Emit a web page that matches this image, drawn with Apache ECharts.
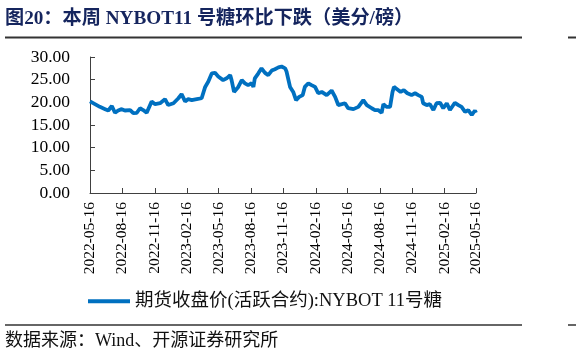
<!DOCTYPE html>
<html>
<head>
<meta charset="utf-8">
<script src="https://cdn.jsdelivr.net/npm/echarts@6/dist/echarts.min.js"></script>
<style>
html,body{margin:0;padding:0;background:#fff;}
#chart{width:576px;height:353px;}
</style>
</head>
<body>
<div id="chart"></div>
<script>
const dates = [
'2022-05-16','2022-05-30','2022-06-13','2022-06-28','2022-07-07','2022-07-17','2022-07-26','2022-08-04','2022-08-14','2022-08-23',
'2022-09-07','2022-09-16','2022-09-26','2022-10-05','2022-10-14','2022-10-24','2022-11-07','2022-11-17','2022-12-01','2022-12-15',
'2022-12-24','2023-01-08','2023-01-22','2023-01-31','2023-02-10','2023-02-19','2023-03-01','2023-03-15','2023-03-29','2023-04-08',
'2023-04-17','2023-04-27','2023-05-06','2023-05-15','2023-05-29','2023-06-08','2023-06-18','2023-06-22','2023-06-29','2023-07-11',
'2023-07-21','2023-07-30','2023-08-08','2023-08-18','2023-08-23','2023-08-27','2023-09-06','2023-09-15','2023-09-25','2023-10-04',
'2023-10-14','2023-10-23','2023-11-02','2023-11-11','2023-11-21','2023-11-25','2023-12-05','2023-12-14','2023-12-22','2023-12-31',
'2024-01-10','2024-01-16','2024-01-26','2024-02-04','2024-02-14','2024-02-23','2024-03-04','2024-03-18','2024-04-01','2024-04-11',
'2024-04-20','2024-04-30','2024-05-09','2024-05-18','2024-06-02','2024-06-16','2024-06-30','2024-07-10','2024-07-24','2024-08-02',
'2024-08-11','2024-08-21','2024-08-26','2024-09-04','2024-09-14','2024-09-21','2024-09-25','2024-10-04','2024-10-14','2024-10-23',
'2024-11-02','2024-11-14','2024-11-24','2024-12-03','2024-12-13','2024-12-17','2024-12-27','2025-01-05','2025-01-15','2025-01-24',
'2025-02-03','2025-02-12','2025-02-22','2025-03-03','2025-03-17','2025-03-27','2025-04-05','2025-04-15','2025-04-24','2025-05-04',
'2025-05-13','2025-05-16'
];
const prices = [
20.2,19.6,19.0,18.5,18.2,19.2,17.7,18.2,18.5,18.2,
18.3,17.6,17.7,18.7,18.3,17.7,20.2,19.6,19.8,20.7,
19.4,19.8,20.9,21.8,20.2,20.7,20.5,20.7,20.9,23.4,
24.6,26.4,26.5,25.7,24.9,25.3,26.0,24.9,22.3,23.4,
24.9,24.2,23.8,24.2,23.4,25.3,26.4,27.5,26.5,26.0,
27.0,27.3,27.7,27.9,27.5,26.8,23.4,22.3,20.5,21.2,
21.6,23.4,24.2,23.8,23.4,22.0,22.3,21.6,22.6,21.2,
19.4,19.6,19.8,18.7,18.5,19.0,20.5,19.4,18.7,18.3,
18.3,17.7,19.6,19.0,19.0,22.3,23.4,22.9,22.3,22.7,
22.0,21.6,22.0,21.6,21.2,19.8,19.4,19.6,18.3,19.8,
19.9,18.7,19.8,18.3,19.9,19.4,19.0,17.9,18.3,17.2,
18.2,17.7
];
const tickDates = ['2022-05-16','2022-08-16','2022-11-16','2023-02-16','2023-05-16','2023-08-16','2023-11-16',
'2024-02-16','2024-05-16','2024-08-16','2024-11-16','2025-02-16','2025-05-16'];
const seriesName = '期货收盘价(活跃合约):NYBOT 11号糖';
const titleText = '图20：本周 NYBOT11 号糖环比下跌（美分/磅）';
const sourceText = '数据来源：Wind、开源证券研究所';

function ts(s){const p=s.split('-').map(Number);return Date.UTC(p[0],p[1]-1,p[2]);}
function fmt(v){const d=new Date(v);const m=d.getUTCMonth()+1, day=d.getUTCDate();
  return d.getUTCFullYear()+'-'+(m<10?'0':'')+m+'-'+(day<10?'0':'')+day;}
const tickTs = tickDates.map(ts);
const seriesData = dates.map((d,i)=>[ts(d), prices[i]]);

const serif = '"Liberation Serif","Times New Roman","Noto Sans CJK SC",serif';
const chart = echarts.init(document.getElementById('chart'), null, {renderer:'canvas'});
chart.setOption({
  animation:false,
  backgroundColor:'#fff',
  title:{text:titleText,left:5,top:9,padding:0,textStyle:{fontFamily:serif,fontWeight:'bold',fontSize:19.2,color:'#15255E'}},
  grid:{left:90,right:100,top:57,bottom:160,containLabel:false},
  legend:{left:88,top:292,padding:0,icon:'rect',itemWidth:42,itemHeight:4,itemGap:3,
    textStyle:{fontFamily:serif,fontSize:18.5,color:'#111'},data:[seriesName]},
  xAxis:{type:'value',min:tickTs[0],max:tickTs[tickTs.length-1],scale:true,
    axisLine:{lineStyle:{color:'#404040',width:1}},
    axisTick:{show:true,inside:true,length:5,lineStyle:{color:'#404040'},customValues:tickTs},
    axisLabel:{rotate:90,margin:9,fontFamily:serif,fontSize:15.5,color:'#000',customValues:tickTs,formatter:fmt},
    splitLine:{show:false}},
  yAxis:{type:'value',min:0,max:30,interval:5,
    axisLine:{show:true,lineStyle:{color:'#404040',width:1}},
    axisTick:{show:true,inside:true,length:5,lineStyle:{color:'#404040'}},
    axisLabel:{margin:20,fontFamily:serif,fontSize:17.5,color:'#000',formatter:v=>v.toFixed(2)},
    splitLine:{show:false}},
  series:[{name:seriesName,type:'line',data:seriesData,showSymbol:false,symbol:'none',
    lineStyle:{color:'#0070C0',width:3.8},itemStyle:{color:'#0070C0'}}],
  graphic:[
    {type:'line',shape:{x1:5,y1:37.5,x2:522,y2:37.5},style:{stroke:'#333',lineWidth:2}},
    {type:'line',shape:{x1:568,y1:37.5,x2:576,y2:37.5},style:{stroke:'#333',lineWidth:2}},
    {type:'line',shape:{x1:5,y1:325,x2:522,y2:325},style:{stroke:'#333',lineWidth:1.5}},
    {type:'line',shape:{x1:568,y1:325,x2:576,y2:325},style:{stroke:'#333',lineWidth:1.5}},
    {type:'text',left:5,top:332,style:{text:sourceText,font:'18px '+serif,fill:'#111'}}
  ]
});
</script>
</body>
</html>
